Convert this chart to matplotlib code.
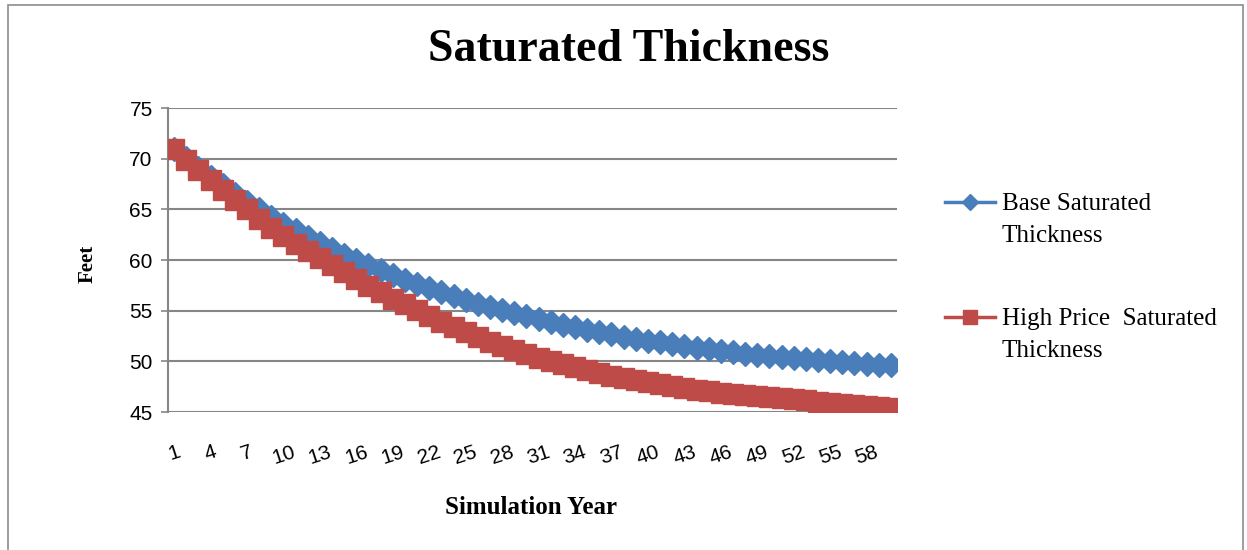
import matplotlib
matplotlib.use("Agg")
import matplotlib.pyplot as plt
from matplotlib.lines import Line2D
from matplotlib.patches import Rectangle

# Data
years = list(range(1, 61))
base = [71.00, 70.03, 69.10, 68.21, 67.36, 66.54, 65.75, 65.00, 64.28, 63.59,
        62.92, 62.29, 61.68, 61.10, 60.53, 60.00, 59.48, 58.99, 58.51, 58.06,
        57.62, 57.21, 56.81, 56.42, 56.06, 55.70, 55.37, 55.04, 54.73, 54.43,
        54.15, 53.87, 53.61, 53.36, 53.12, 52.88, 52.66, 52.45, 52.25, 52.05,
        51.86, 51.68, 51.51, 51.35, 51.19, 51.03, 50.90, 50.77, 50.66, 50.55,
        50.45, 50.35, 50.25, 50.15, 50.05, 49.95, 49.86, 49.77, 49.68, 49.60]
high = [71.0, 69.9, 68.9, 67.9, 66.9, 65.9, 65.0, 64.0, 63.2, 62.4,
        61.6, 60.9, 60.2, 59.5, 58.8, 58.1, 57.4, 56.8, 56.2, 55.7,
        55.1, 54.5, 53.9, 53.4, 52.9, 52.4, 51.9, 51.5, 51.1, 50.7,
        50.3, 50.0, 49.7, 49.4, 49.1, 48.8, 48.6, 48.4, 48.2, 48.0,
        47.8, 47.6, 47.4, 47.2, 47.1, 46.9, 46.8, 46.7, 46.6, 46.5,
        46.4, 46.3, 46.15, 46.0, 45.9, 45.8, 45.65, 45.55, 45.45, 45.35]
series_names = ["Base Saturated\nThickness", "High Price  Saturated\nThickness"]
xtick_years = list(range(1, 61, 3))
yticks = [45, 50, 55, 60, 65, 70, 75]

blue = "#4A7EBB"
red = "#BE4B48"
grid_col = "#868686"
serif = "Liberation Serif"

fig = plt.figure(figsize=(12.47, 5.5), dpi=100)
ax = fig.add_axes([168 / 1247, 1 - 412 / 550, (897 - 168) / 1247, (412 - 108) / 550])

ax.plot(years, base, color=blue, lw=2.5, marker="D", markersize=12,
        markeredgecolor=blue, zorder=3)
ax.plot(years, high, color=red, lw=2.5, marker="s", markersize=14,
        markeredgecolor=red, zorder=4)

ax.set_xlim(0.5, 60.5)
ax.set_ylim(45, 75)
ax.set_yticks(yticks)
ax.set_xticks(xtick_years)
ax.set_xticklabels([str(y) for y in xtick_years], rotation=18,
                   fontsize=15, family="Liberation Sans")
ax.tick_params(axis="x", length=0, pad=22)
ax.tick_params(axis="y", length=5, color=grid_col, width=1.2, labelsize=15, pad=6)
for lab in ax.get_yticklabels():
    lab.set_family("Liberation Sans")

ax.grid(axis="y", color=grid_col, lw=1.5)
ax.set_axisbelow(True)
for side in ["top", "right", "bottom"]:
    ax.spines[side].set_visible(False)
ax.spines["left"].set_color(grid_col)
ax.spines["left"].set_linewidth(1.5)

fig.text(629 / 1247, 1 - 50 / 550, "Saturated Thickness", ha="center", va="center",
         fontsize=33, fontweight="bold", family=serif)
fig.text(531 / 1247, 1 - 508 / 550, "Simulation Year", ha="center", va="center",
         fontsize=18, fontweight="bold", family=serif)
fig.text(88 / 1247, 1 - 264 / 550, "Feet", ha="center", va="center", rotation=90,
         fontsize=15, fontweight="bold", family=serif)

# legend drawn by hand so the marker lines up with the first text line
legend_rows = [(202, blue, "D", 8), (317, red, "s", 10)]
for (ypix, col, mk, ms), name in zip(legend_rows, series_names):
    y = 1 - ypix / 550
    fig.add_artist(Line2D([945 / 1247, 995 / 1247], [y, y], color=col, lw=2.5,
                          transform=fig.transFigure))
    fig.add_artist(Line2D([970 / 1247], [y], color=col, marker=mk, markersize=ms,
                          markeredgecolor=col, transform=fig.transFigure))
    fig.text(1002 / 1247, 1 - (ypix + 18) / 550, name, ha="left", va="center",
             fontsize=18, family=serif, linespacing=1.58)

fig.add_artist(Rectangle((8 / 1247, -0.02), 1235 / 1247, 1.02 - 5 / 550,
                         transform=fig.transFigure, fill=False,
                         edgecolor="#8C8C8C", lw=1.2))

fig.savefig("out.png", dpi=100)
